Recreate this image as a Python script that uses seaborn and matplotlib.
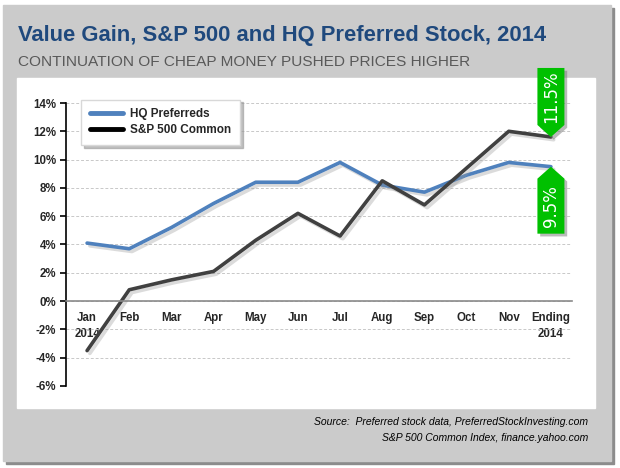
import numpy as np
import pandas as pd
import matplotlib
matplotlib.use("Agg")
import matplotlib.pyplot as plt
import matplotlib.patheffects as pe
import matplotlib.transforms as mtransforms
from matplotlib.patches import Rectangle, Polygon
import seaborn as sns

# data
months = ["Jan\n2014", "Feb", "Mar", "Apr", "May", "Jun", "Jul", "Aug",
          "Sep", "Oct", "Nov", "Ending\n2014"]
hq_preferreds = [4.1, 3.7, 5.2, 6.9, 8.4, 8.4, 9.8, 8.2, 7.7, 8.9, 9.8, 9.5]
sp500_common = [-3.5, 0.8, 1.5, 2.1, 4.3, 6.2, 4.6, 8.5, 6.8, 9.4, 12.0, 11.6]
series_names = ["HQ Preferreds", "S&P 500 Common"]
end_labels = ["9.5%", "11.5%"]
y_ticks = [-6, -4, -2, 0, 2, 4, 6, 8, 10, 12, 14]

df = pd.DataFrame({
    "month": months * 2,
    "pos": list(range(len(months))) * 2,
    "value": hq_preferreds + sp500_common,
    "series": [series_names[0]] * len(months) + [series_names[1]] * len(months),
})

sns.set_style("white")
plt.rcParams["font.family"] = ["Liberation Sans", "DejaVu Sans"]

fig = plt.figure(figsize=(6.2, 4.68), dpi=100)
fig.patch.set_facecolor("white")

# outer gray panel with shadow
fig.patches.append(Rectangle((6 / 620, 1 - 464 / 468), 608 / 620, 456 / 468,
                             transform=fig.transFigure, color="#8c8c8c", zorder=-3))
fig.patches.append(Rectangle((3 / 620, 1 - 461 / 468), 608 / 620, 456 / 468,
                             transform=fig.transFigure, color="#cbcbcb", zorder=-2))
# white plot panel
fig.patches.append(Rectangle((17 / 620, 1 - 408 / 468), 578 / 620, 330 / 468,
                             transform=fig.transFigure, color="white", zorder=-1))

ax = fig.add_axes([66 / 620, 1 - 386 / 468, 506 / 620, 283 / 468])
ax.set_facecolor("none")

palette = {series_names[0]: "#4f81bd", series_names[1]: "#404040"}
sns.lineplot(data=df, x="pos", y="value", hue="series", palette=palette,
             linewidth=2.6, ax=ax, legend=True)
for line in ax.lines:
    line.set_path_effects([pe.SimpleLineShadow(offset=(2, -2), shadow_color="#999999", alpha=0.35),
                           pe.Normal()])

ax.set_xlim(-0.5, len(months) - 0.5)
ax.set_ylim(-6, 14)
ax.set_yticks(y_ticks)
ax.set_yticklabels([f"{t}%" for t in y_ticks])
ax.yaxis.grid(True, linestyle=(0, (3, 2)), color="#c8c8c8", linewidth=0.7)
ax.set_axisbelow(True)

# category axis at zero: tick marks between categories, labels centered
ax.spines["bottom"].set_position(("data", 0))
ax.spines["bottom"].set_color("#8a8a8a")
ax.spines["bottom"].set_linewidth(1.2)
ax.spines["top"].set_visible(False)
ax.spines["right"].set_visible(False)
ax.spines["left"].set_color("black")
ax.spines["left"].set_linewidth(1.2)
ax.set_xticks(np.arange(len(months) + 1) - 0.5)
ax.set_xticklabels([])
ax.tick_params(axis="x", which="major", length=5, color="#8a8a8a", width=1)
ax.set_xticks(np.arange(len(months)), minor=True)
ax.set_xticklabels(months, minor=True, fontsize=8.3, fontweight="bold", linespacing=1.45)
ax.tick_params(axis="x", which="minor", length=0, pad=8)
ax.tick_params(axis="y", length=4, width=1.2, color="black", left=True, labelsize=8.3, pad=3)
for t in ax.get_yticklabels():
    t.set_fontweight("bold")
ax.set_xlabel("")
ax.set_ylabel("")

leg = ax.legend(loc="upper left", bbox_to_anchor=(0.03, 1.012), frameon=True, fancybox=False,
                shadow={"color": "#999999", "alpha": 0.6}, edgecolor="#d8d8d8",
                prop={"size": 8.5, "weight": "bold"}, handlelength=2.8, borderpad=0.75,
                labelspacing=0.3, borderaxespad=0, handletextpad=0.6)
for line in leg.get_lines():
    line.set_linewidth(3.5)
    line.set_path_effects([])
leg.get_lines()[1].set_color("black")

# green callouts at the ending values (shape in inches, anchored at data point)
green = "#00c000"
last = len(months) - 1
w = 0.135
down_shape = [(0, 0), (w, 0.12), (w, 0.69), (-w, 0.69), (-w, 0.12)]
up_shape = [(0, 0), (w, -0.12), (w, -0.67), (-w, -0.67), (-w, -0.12)]
for val, shape, lbl, dy in [(sp500_common[-1], down_shape, end_labels[1], 0.40),
                            (hq_preferreds[-1], up_shape, end_labels[0], -0.39)]:
    trans = fig.dpi_scale_trans + mtransforms.ScaledTranslation(last, val, ax.transData)
    poly = Polygon(shape, closed=True, transform=trans, facecolor=green, edgecolor="none",
                   zorder=5, clip_on=False)
    poly.set_path_effects([pe.SimplePatchShadow(offset=(2, -2), shadow_rgbFace="#777777", alpha=0.5),
                           pe.Normal()])
    ax.add_patch(poly)
    ax.text(0, dy, lbl, transform=trans, rotation=90, ha="center", va="center",
            color="white", fontsize=12, family="DejaVu Sans", zorder=6)

# titles
fig.text(18 / 620, 1 - 41 / 468, "Value Gain, S&P 500 and HQ Preferred Stock, 2014",
         fontsize=15.8, fontweight="bold", color="#1f497d", va="baseline")
fig.text(18 / 620, 1 - 66 / 468, "CONTINUATION OF CHEAP MONEY PUSHED PRICES HIGHER",
         fontsize=11.1, color="#595959", va="baseline")

# source note
fig.text(588 / 620, 1 - 425 / 468, "Source:  Preferred stock data, PreferredStockInvesting.com",
         fontsize=7.5, style="italic", ha="right", va="baseline", color="black")
fig.text(588 / 620, 1 - 441 / 468, "S&P 500 Common Index, finance.yahoo.com",
         fontsize=7.5, style="italic", ha="right", va="baseline", color="black")

fig.savefig("out.png", dpi=100, facecolor=fig.get_facecolor())
